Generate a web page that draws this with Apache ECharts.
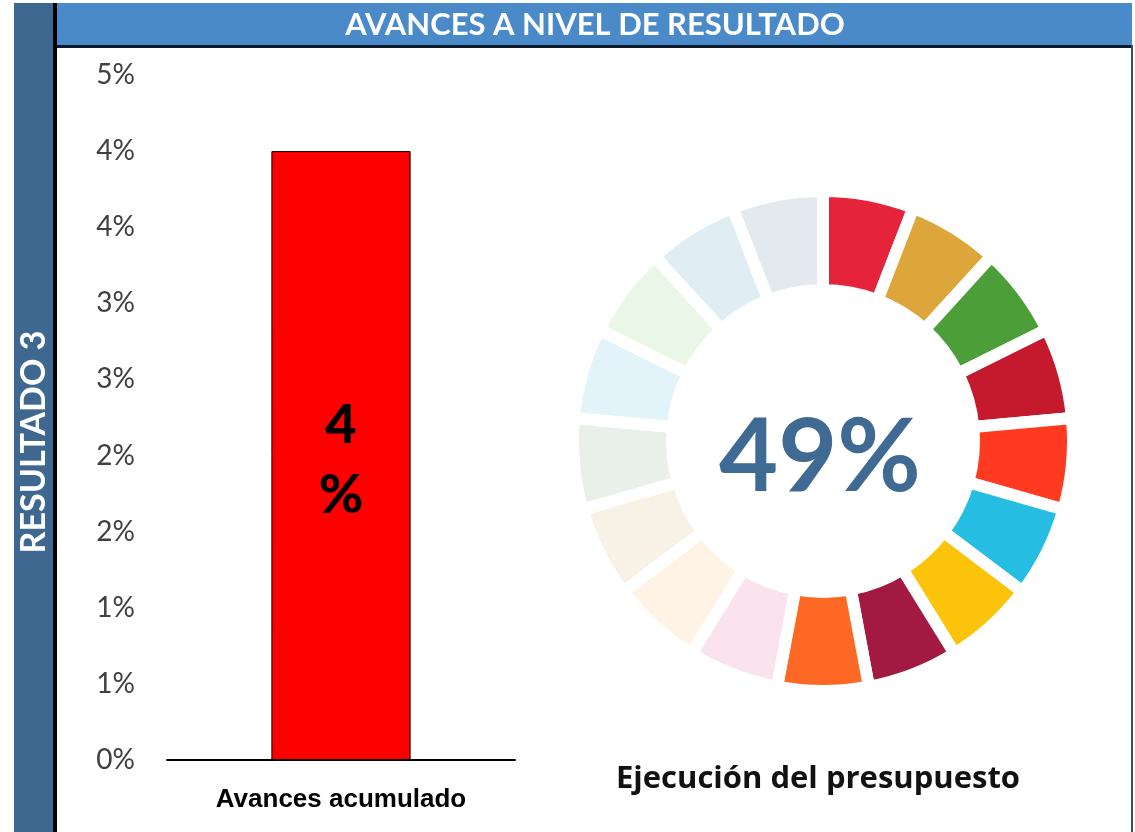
<!DOCTYPE html>
<html>
<head>
<meta charset="utf-8">
<title>Avances a nivel de resultado</title>
<script src="https://cdn.jsdelivr.net/npm/echarts@6/dist/echarts.min.js"></script>
<style>
  html, body { margin: 0; padding: 0; background: #fff; }
  #main { width: 1135px; height: 832px; }
</style>
</head>
<body>
<div id="main"></div>
<script>
// datos del gráfico
var categories = ['Avances acumulado']
var avanceValues = [0.04]
var barLabels = ['4\n%']
var yTickLabels = ['0%', '1%', '1%', '2%', '2%', '3%', '3%', '4%', '4%', '5%']
// 17 ODS, todos del mismo tamaño; 1 = con color, 0 = apagado
var odsValues = [1, 1, 1, 1, 1, 1, 1, 1, 1, 1, 1, 1, 1, 1, 1, 1, 1]
var odsFilled = [1, 1, 1, 1, 1, 1, 1, 1, 1, 0, 0, 0, 0, 0, 0, 0, 0]
var presupuestoText = '49%'

var odsColors = ['#e5243b', '#dda63a', '#4c9f38', '#c5192d', '#ff3a21', '#26bde2',
  '#fcc30b', '#a21942', '#fd6925', '#dd1367', '#fd9d24', '#bf8b2e', '#3f7e44',
  '#0a97d9', '#56c02b', '#00689d', '#19486a']

// mezcla con blanco para los ODS apagados (así el borde blanco sigue tapando)
function fade(hex, a) {
  var r = parseInt(hex.substr(1, 2), 16)
  var g = parseInt(hex.substr(3, 2), 16)
  var b = parseInt(hex.substr(5, 2), 16)
  function mix(c) { return Math.round(255 - (255 - c) * a) }
  return 'rgb(' + mix(r) + ',' + mix(g) + ',' + mix(b) + ')'
}

var myChart = echarts.init(document.getElementById('main'))

var pieData = odsValues.map(function (v, i) {
  return {
    value: v,
    name: 'ODS ' + (i + 1),
    itemStyle: { color: odsFilled[i] ? odsColors[i] : fade(odsColors[i], 0.12) }
  }
})

var option = {
  backgroundColor: '#fff',
  animation: false,
  grid: { left: 167, right: 620, top: 75, bottom: 72 },
  xAxis: {
    type: 'category',
    data: categories,
    axisLine: { lineStyle: { color: '#000', width: 2 } },
    axisTick: { show: false },
    axisLabel: {
      margin: 27,
      color: '#000',
      fontFamily: 'Liberation Sans',
      fontWeight: 'bold',
      fontSize: 26
    }
  },
  yAxis: {
    type: 'value',
    min: 0,
    max: 0.045,
    interval: 0.005,
    splitLine: { show: false },
    axisLine: { show: false },
    axisTick: { show: false },
    axisLabel: {
      margin: 32,
      color: '#404040',
      fontFamily: 'Lato',
      fontSize: 28,
      formatter: function (v) {
        return yTickLabels[Math.round(v / 0.005)]
      }
    }
  },
  series: [
    {
      type: 'bar',
      data: avanceValues,
      barWidth: '40%',
      itemStyle: { color: '#ff0000', borderColor: '#000', borderWidth: 1 },
      label: {
        show: true,
        position: 'inside',
        formatter: function (p) { return barLabels[p.dataIndex] },
        color: '#000',
        fontFamily: 'Lato',
        fontWeight: 900,
        fontSize: 54,
        lineHeight: 70,
        offset: [0, 5]
      }
    },
    {
      type: 'pie',
      center: [823, 441],
      radius: [151, 250],
      startAngle: 90,
      clockwise: true,
      silent: true,
      label: { show: false },
      labelLine: { show: false },
      itemStyle: { borderColor: '#fff', borderWidth: 12 },
      data: pieData
    }
  ],
  graphic: [
    // franja izquierda
    { type: 'rect', shape: { x: 14, y: 3, width: 40, height: 829 }, style: { fill: '#3e6890' } },
    { type: 'rect', shape: { x: 53, y: 3, width: 4, height: 829 }, style: { fill: '#000' } },
    {
      type: 'text', x: 34, y: 442, rotation: Math.PI / 2,
      style: {
        text: 'RESULTADO 3', fill: '#fff', fontFamily: 'Lato', fontWeight: 'bold',
        fontSize: 34, align: 'center', verticalAlign: 'middle'
      }
    },
    // encabezado
    { type: 'rect', shape: { x: 57, y: 3, width: 1075, height: 42 }, style: { fill: '#4a8ac9' } },
    { type: 'rect', shape: { x: 57, y: 45, width: 1075, height: 3 }, style: { fill: '#0d1a2a' } },
    {
      type: 'text', x: 595, y: 25,
      style: {
        text: 'AVANCES A NIVEL DE RESULTADO', fill: '#fff', fontFamily: 'Lato', fontWeight: 'bold',
        fontSize: 31, align: 'center', verticalAlign: 'middle'
      }
    },
    // borde derecho
    { type: 'rect', shape: { x: 1131, y: 45, width: 2, height: 787 }, style: { fill: '#2f5a48' } },
    // texto del presupuesto
    {
      type: 'text', x: 820, y: 458,
      style: {
        text: presupuestoText, fill: '#3e6a94', fontFamily: 'Lato', fontWeight: 'bold',
        fontSize: 102, align: 'center', verticalAlign: 'middle'
      }
    },
    {
      type: 'text', x: 818, y: 779,
      style: {
        text: 'Ejecución del presupuesto', fill: '#111', fontFamily: 'Open Sans', fontWeight: 'bold',
        fontSize: 31, align: 'center', verticalAlign: 'middle'
      }
    }
  ]
}

myChart.setOption(option)
window.addEventListener('resize', function () {
  myChart.resize()
})
</script>
</body>
</html>
